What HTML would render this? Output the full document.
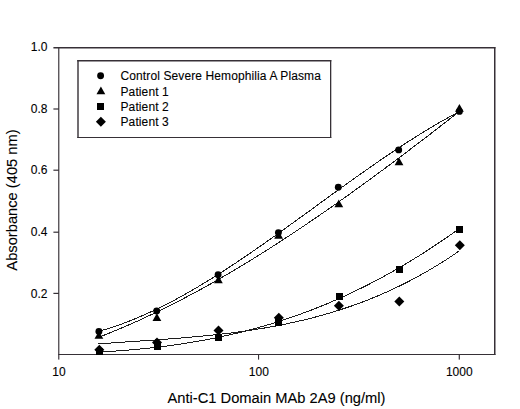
<!DOCTYPE html>
<html><head><meta charset="utf-8"><title>chart</title>
<style>
html,body{margin:0;padding:0;background:#fff;}
body{width:520px;height:409px;overflow:hidden;font-family:"Liberation Sans",sans-serif;}
svg{display:block;}
text{font-family:"Liberation Sans",sans-serif;fill:#000;stroke:#000;stroke-width:0.1px;}
.tk{font-size:12px;}
.lg{font-size:12px;letter-spacing:0.11px;}
.ax{font-size:14.7px;}
</style></head><body>
<svg width="520" height="409" viewBox="0 0 520 409">
<rect x="0" y="0" width="520" height="409" fill="#fff"/>
<g fill="#363036" stroke="none">
<rect x="58.2" y="47" width="1.15" height="312.6"/>
<rect x="53.4" y="47" width="442" height="1.5"/>
<rect x="494" y="47" width="1.5" height="308"/>
<rect x="58.3" y="354" width="437.2" height="1"/>
<rect x="53.4" y="292.8" width="5.5" height="1.2"/>
<rect x="53.4" y="231.6" width="5.5" height="1.2"/>
<rect x="53.4" y="169.6" width="5.5" height="1.2"/>
<rect x="53.4" y="108.4" width="5.5" height="1.2"/>
<rect x="258" y="354" width="1.1" height="5.6"/>
<rect x="458.7" y="354" width="1.2" height="5.6"/>
<rect x="77.3" y="60" width="1.4" height="78"/>
<rect x="77.3" y="60" width="254" height="1.5"/>
<rect x="330" y="60" width="1.3" height="78"/>
<rect x="77.3" y="137" width="254" height="1"/>
</g>
<text class="tk" x="47.4" y="297.6" text-anchor="end">0.2</text>
<text class="tk" x="47.4" y="236.4" text-anchor="end">0.4</text>
<text class="tk" x="47.4" y="174.4" text-anchor="end">0.6</text>
<text class="tk" x="47.4" y="113.2" text-anchor="end">0.8</text>
<text class="tk" x="47.4" y="51.3" text-anchor="end">1.0</text>
<text class="tk" x="59" y="376" text-anchor="middle">10</text>
<text class="tk" x="258.8" y="376" text-anchor="middle">100</text>
<text class="tk" x="459.3" y="376" text-anchor="middle">1000</text>
<text class="ax" x="276.5" y="403.1" text-anchor="middle">Anti-C1 Domain MAb 2A9 (ng/ml)</text>
<text class="ax" transform="translate(17.0,200) rotate(-90)" text-anchor="middle">Absorbance (405 nm)</text>
<g fill="none" stroke="#1c1c1c" stroke-width="1" shape-rendering="crispEdges">
<path d="M98.0,331.4 L101.0,330.6 L104.0,329.8 L107.0,328.9 L110.0,327.9 L113.0,327.0 L116.0,326.0 L119.0,324.9 L122.0,323.9 L125.0,322.7 L128.0,321.6 L131.0,320.4 L134.0,319.2 L137.0,318.0 L140.0,316.7 L143.0,315.4 L146.0,314.1 L149.0,312.7 L152.0,311.4 L155.0,309.9 L158.0,308.5 L161.0,307.0 L164.0,305.5 L167.0,304.0 L170.0,302.4 L173.0,300.9 L176.0,299.3 L179.0,297.6 L182.0,296.0 L185.0,294.3 L188.0,292.6 L191.0,290.9 L194.0,289.1 L197.0,287.4 L200.0,285.6 L203.0,283.8 L206.0,282.0 L209.0,280.1 L212.0,278.3 L215.0,276.4 L218.0,274.5 L221.0,272.6 L224.0,270.6 L227.0,268.7 L230.0,266.7 L233.0,264.7 L236.0,262.8 L239.0,260.7 L242.0,258.7 L245.0,256.7 L248.0,254.7 L251.0,252.6 L254.0,250.5 L257.0,248.4 L260.0,246.4 L263.0,244.3 L266.0,242.1 L269.0,240.0 L272.0,237.9 L275.0,235.8 L278.0,233.6 L281.0,231.5 L284.0,229.3 L287.0,227.2 L290.0,225.0 L293.0,222.8 L296.0,220.7 L299.0,218.5 L302.0,216.3 L305.0,214.1 L308.0,212.0 L311.0,209.8 L314.0,207.6 L317.0,205.4 L320.0,203.2 L323.0,201.0 L326.0,198.9 L329.0,196.7 L332.0,194.5 L335.0,192.3 L338.0,190.2 L341.0,188.0 L344.0,185.8 L347.0,183.7 L350.0,181.5 L353.0,179.4 L356.0,177.2 L359.0,175.1 L362.0,173.0 L365.0,170.9 L368.0,168.8 L371.0,166.7 L374.0,164.6 L377.0,162.5 L380.0,160.4 L383.0,158.4 L386.0,156.3 L389.0,154.3 L392.0,152.3 L395.0,150.3 L398.0,148.3 L401.0,146.3 L404.0,144.4 L407.0,142.4 L410.0,140.5 L413.0,138.6 L416.0,136.7 L419.0,134.8 L422.0,132.9 L425.0,131.1 L428.0,129.3 L431.0,127.5 L434.0,125.7 L437.0,123.9 L440.0,122.2 L443.0,120.5 L446.0,118.8 L449.0,117.1 L452.0,115.5 L455.0,113.9 L458.0,112.3 L459.3,111.6"/>
<path d="M98.0,337.5 L101.0,336.3 L104.0,335.2 L107.0,334.0 L110.0,332.8 L113.0,331.6 L116.0,330.3 L119.0,329.1 L122.0,327.8 L125.0,326.5 L128.0,325.2 L131.0,323.9 L134.0,322.6 L137.0,321.3 L140.0,319.9 L143.0,318.5 L146.0,317.1 L149.0,315.7 L152.0,314.3 L155.0,312.9 L158.0,311.4 L161.0,310.0 L164.0,308.5 L167.0,307.0 L170.0,305.5 L173.0,304.0 L176.0,302.5 L179.0,300.9 L182.0,299.4 L185.0,297.8 L188.0,296.2 L191.0,294.6 L194.0,293.0 L197.0,291.4 L200.0,289.8 L203.0,288.1 L206.0,286.4 L209.0,284.8 L212.0,283.1 L215.0,281.4 L218.0,279.7 L221.0,277.9 L224.0,276.2 L227.0,274.5 L230.0,272.7 L233.0,270.9 L236.0,269.1 L239.0,267.3 L242.0,265.5 L245.0,263.7 L248.0,261.9 L251.0,260.1 L254.0,258.2 L257.0,256.3 L260.0,254.5 L263.0,252.6 L266.0,250.7 L269.0,248.8 L272.0,246.9 L275.0,244.9 L278.0,243.0 L281.0,241.1 L284.0,239.1 L287.0,237.1 L290.0,235.2 L293.0,233.2 L296.0,231.2 L299.0,229.2 L302.0,227.2 L305.0,225.2 L308.0,223.1 L311.0,221.1 L314.0,219.0 L317.0,217.0 L320.0,214.9 L323.0,212.8 L326.0,210.8 L329.0,208.7 L332.0,206.6 L335.0,204.5 L338.0,202.4 L341.0,200.2 L344.0,198.1 L347.0,196.0 L350.0,193.8 L353.0,191.7 L356.0,189.5 L359.0,187.3 L362.0,185.2 L365.0,183.0 L368.0,180.8 L371.0,178.6 L374.0,176.4 L377.0,174.2 L380.0,172.0 L383.0,169.8 L386.0,167.5 L389.0,165.3 L392.0,163.1 L395.0,160.8 L398.0,158.6 L401.0,156.3 L404.0,154.1 L407.0,151.8 L410.0,149.5 L413.0,147.2 L416.0,145.0 L419.0,142.7 L422.0,140.4 L425.0,138.1 L428.0,135.8 L431.0,133.5 L434.0,131.2 L437.0,128.8 L440.0,126.5 L443.0,124.2 L446.0,121.9 L449.0,119.5 L452.0,117.2 L455.0,114.9 L458.0,112.5 L459.3,111.5"/>
<path d="M98.0,352.0 L101.0,351.8 L104.0,351.7 L107.0,351.5 L110.0,351.3 L113.0,351.2 L116.0,351.0 L119.0,350.8 L122.0,350.5 L125.0,350.3 L128.0,350.1 L131.0,349.8 L134.0,349.6 L137.0,349.3 L140.0,349.0 L143.0,348.8 L146.0,348.5 L149.0,348.1 L152.0,347.8 L155.0,347.5 L158.0,347.1 L161.0,346.8 L164.0,346.4 L167.0,346.0 L170.0,345.6 L173.0,345.2 L176.0,344.8 L179.0,344.3 L182.0,343.9 L185.0,343.4 L188.0,342.9 L191.0,342.5 L194.0,341.9 L197.0,341.4 L200.0,340.9 L203.0,340.4 L206.0,339.8 L209.0,339.2 L212.0,338.6 L215.0,338.0 L218.0,337.4 L221.0,336.8 L224.0,336.1 L227.0,335.5 L230.0,334.8 L233.0,334.1 L236.0,333.4 L239.0,332.7 L242.0,331.9 L245.0,331.2 L248.0,330.4 L251.0,329.6 L254.0,328.8 L257.0,328.0 L260.0,327.1 L263.0,326.3 L266.0,325.4 L269.0,324.5 L272.0,323.6 L275.0,322.7 L278.0,321.7 L281.0,320.8 L284.0,319.8 L287.0,318.8 L290.0,317.8 L293.0,316.8 L296.0,315.7 L299.0,314.6 L302.0,313.5 L305.0,312.4 L308.0,311.3 L311.0,310.2 L314.0,309.0 L317.0,307.8 L320.0,306.6 L323.0,305.4 L326.0,304.2 L329.0,302.9 L332.0,301.6 L335.0,300.3 L338.0,299.0 L341.0,297.7 L344.0,296.3 L347.0,294.9 L350.0,293.5 L353.0,292.1 L356.0,290.7 L359.0,289.2 L362.0,287.8 L365.0,286.3 L368.0,284.7 L371.0,283.2 L374.0,281.6 L377.0,280.1 L380.0,278.5 L383.0,276.8 L386.0,275.2 L389.0,273.5 L392.0,271.8 L395.0,270.1 L398.0,268.4 L401.0,266.7 L404.0,264.9 L407.0,263.1 L410.0,261.3 L413.0,259.5 L416.0,257.6 L419.0,255.8 L422.0,253.9 L425.0,252.0 L428.0,250.0 L431.0,248.1 L434.0,246.1 L437.0,244.1 L440.0,242.1 L443.0,240.0 L446.0,238.0 L449.0,235.9 L452.0,233.8 L455.0,231.7 L458.0,229.5 L459.8,228.2"/>
<path d="M98.0,343.9 L101.0,343.7 L104.0,343.5 L107.0,343.3 L110.0,343.1 L113.0,342.9 L116.0,342.7 L119.0,342.4 L122.0,342.2 L125.0,342.0 L128.0,341.8 L131.0,341.6 L134.0,341.4 L137.0,341.2 L140.0,341.0 L143.0,340.8 L146.0,340.6 L149.0,340.4 L152.0,340.2 L155.0,340.0 L158.0,339.8 L161.0,339.5 L164.0,339.3 L167.0,339.1 L170.0,338.9 L173.0,338.6 L176.0,338.4 L179.0,338.2 L182.0,337.9 L185.0,337.7 L188.0,337.4 L191.0,337.1 L194.0,336.9 L197.0,336.6 L200.0,336.3 L203.0,336.0 L206.0,335.7 L209.0,335.4 L212.0,335.1 L215.0,334.8 L218.0,334.5 L221.0,334.1 L224.0,333.8 L227.0,333.4 L230.0,333.1 L233.0,332.7 L236.0,332.3 L239.0,331.9 L242.0,331.5 L245.0,331.1 L248.0,330.6 L251.0,330.2 L254.0,329.7 L257.0,329.2 L260.0,328.8 L263.0,328.3 L266.0,327.7 L269.0,327.2 L272.0,326.7 L275.0,326.1 L278.0,325.6 L281.0,325.0 L284.0,324.4 L287.0,323.7 L290.0,323.1 L293.0,322.5 L296.0,321.8 L299.0,321.1 L302.0,320.4 L305.0,319.7 L308.0,318.9 L311.0,318.2 L314.0,317.4 L317.0,316.6 L320.0,315.8 L323.0,315.0 L326.0,314.1 L329.0,313.2 L332.0,312.3 L335.0,311.4 L338.0,310.5 L341.0,309.5 L344.0,308.5 L347.0,307.5 L350.0,306.5 L353.0,305.5 L356.0,304.4 L359.0,303.3 L362.0,302.2 L365.0,301.0 L368.0,299.9 L371.0,298.7 L374.0,297.4 L377.0,296.2 L380.0,294.9 L383.0,293.6 L386.0,292.3 L389.0,290.9 L392.0,289.6 L395.0,288.2 L398.0,286.7 L401.0,285.3 L404.0,283.8 L407.0,282.3 L410.0,280.7 L413.0,279.1 L416.0,277.5 L419.0,275.9 L422.0,274.2 L425.0,272.5 L428.0,270.8 L431.0,269.0 L434.0,267.2 L437.0,265.4 L440.0,263.6 L443.0,261.7 L446.0,259.8 L449.0,257.8 L452.0,255.8 L455.0,253.8 L458.0,251.7 L458.5,251.4"/>
</g>
<g fill="#000">
<circle cx="98.9" cy="331.4" r="3.45"/>
<circle cx="156.7" cy="311" r="3.45"/>
<circle cx="218.1" cy="274.7" r="3.45"/>
<circle cx="278.4" cy="232.6" r="3.45"/>
<circle cx="338.3" cy="187.2" r="3.45"/>
<circle cx="398.7" cy="149.9" r="3.45"/>
<circle cx="459.4" cy="111.4" r="3.45"/>
<path d="M94.5,338.8 L103.3,338.8 L98.9,331.2Z"/>
<path d="M152.5,320.9 L161.3,320.9 L156.9,313.3Z"/>
<path d="M214.0,283.2 L222.8,283.2 L218.4,275.6Z"/>
<path d="M274.2,238.7 L283.0,238.7 L278.6,231.1Z"/>
<path d="M334.4,207.2 L343.2,207.2 L338.8,199.6Z"/>
<path d="M394.6,165.2 L403.4,165.2 L399.0,157.6Z"/>
<path d="M455.0,111.7 L463.8,111.7 L459.4,104.1Z"/>
<rect x="96" y="348" width="7" height="7" shape-rendering="crispEdges"/>
<rect x="154" y="343" width="7" height="7" shape-rendering="crispEdges"/>
<rect x="215" y="334" width="7" height="7" shape-rendering="crispEdges"/>
<rect x="275" y="319" width="7" height="7" shape-rendering="crispEdges"/>
<rect x="336" y="293" width="7" height="7" shape-rendering="crispEdges"/>
<rect x="396" y="266" width="7" height="7" shape-rendering="crispEdges"/>
<rect x="456" y="226" width="7" height="7" shape-rendering="crispEdges"/>
<path d="M94.3,349.7 L99.3,344.7 L104.3,349.7 L99.3,354.7Z"/>
<path d="M152.0,342.6 L157,337.6 L162.0,342.6 L157,347.6Z"/>
<path d="M213.5,330.4 L218.5,325.4 L223.5,330.4 L218.5,335.4Z"/>
<path d="M273.8,317.7 L278.8,312.7 L283.8,317.7 L278.8,322.7Z"/>
<path d="M333.9,305.8 L338.9,300.8 L343.9,305.8 L338.9,310.8Z"/>
<path d="M394.3,301.5 L399.3,296.5 L404.3,301.5 L399.3,306.5Z"/>
<path d="M454.8,245.2 L459.8,240.2 L464.8,245.2 L459.8,250.2Z"/>
<circle cx="100.6" cy="75.8" r="3.45"/>
<path d="M96.5,94.2 L105.3,94.2 L100.9,86.6Z"/>
<rect x="97" y="103" width="7" height="7" shape-rendering="crispEdges"/>
<path d="M95.9,121.7 L100.9,116.7 L105.9,121.7 L100.9,126.7Z"/>
</g>
<text class="lg" x="120.5" y="80.10">Control Severe Hemophilia A Plasma</text>
<text class="lg" x="120.5" y="95.70">Patient 1</text>
<text class="lg" x="120.5" y="110.75">Patient 2</text>
<text class="lg" x="120.5" y="125.80">Patient 3</text>
</svg></body></html>
